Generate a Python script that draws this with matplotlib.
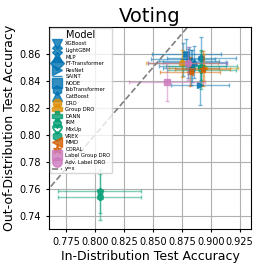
import matplotlib
matplotlib.use("Agg")
import matplotlib.pyplot as plt
import numpy as np

# per-model results: ID accuracy, OOD accuracy, and their error half-widths
models = ["XGBoost", "LightGBM", "MLP", "FT-Transformer", "ResNet", "SAINT", "NODE",
          "TabTransformer", "CatBoost", "DRO", "Group DRO", "DANN", "IRM", "MixUp",
          "VREX", "MMD", "CORAL", "Label Group DRO", "Adv. Label DRO"]
id_acc = [0.881, 0.879, 0.884, 0.880, 0.891, 0.876, 0.883, 0.892, 0.886, 0.875,
          0.894, 0.892, 0.804, 0.892, 0.804, 0.882, 0.893, 0.862, 0.880]
ood_acc = [0.855, 0.860, 0.851, 0.853, 0.837, 0.856, 0.850, 0.857, 0.854, 0.853,
           0.850, 0.851, 0.758, 0.848, 0.754, 0.847, 0.849, 0.839, 0.853]
id_err = [0.026, 0.030, 0.029, 0.034, 0.025, 0.028, 0.024, 0.030, 0.027, 0.031,
          0.030, 0.031, 0.036, 0.030, 0.036, 0.026, 0.024, 0.033, 0.034]
ood_err = [0.010, 0.011, 0.012, 0.011, 0.015, 0.012, 0.013, 0.016, 0.012, 0.010,
           0.010, 0.012, 0.016, 0.014, 0.017, 0.011, 0.013, 0.014, 0.012]

blue, orange, green, red, pink = "#0173b2", "#de8f05", "#029e73", "#d55e00", "#cc78bc"
colors = [blue] * 9 + [orange] * 2 + [green] * 4 + [red] * 2 + [pink] * 2
markers = ["v", "X", "^", "D", ">", "_", "s", "h", "^", "8", "P", "P", "p",
           "$\\heartsuit$", "h", "<", "*", "s", "o"]

fig = plt.figure(figsize=(2.66, 2.66), dpi=100)
ax = fig.add_axes([0.184, 0.139, 0.76, 0.759])

for i, m in enumerate(models):
    ax.errorbar(id_acc[i], ood_acc[i], xerr=id_err[i], yerr=ood_err[i], fmt="none",
                ecolor=colors[i], alpha=0.5, capsize=1.5, elinewidth=1, capthick=1)
    ax.plot(id_acc[i], ood_acc[i], linestyle="none", marker=markers[i], color=colors[i],
            markersize=4.5, alpha=0.8, label=m)

xlim = (0.760, 0.935)
ylim = (0.730, 0.880)
diag = np.array([0.70, 0.95])
ax.plot(diag, diag, "--", color="gray", linewidth=1.2, label="y=x")
ax.set_xlim(xlim)
ax.set_ylim(ylim)
ax.set_xticks([0.775, 0.800, 0.825, 0.850, 0.875, 0.900, 0.925])
ax.set_yticks([0.74, 0.76, 0.78, 0.80, 0.82, 0.84, 0.86])
ax.grid(True, color="#b0b0b0", linewidth=0.8)
ax.set_axisbelow(True)
ax.tick_params(labelsize=7, length=2.5)
ax.set_title("Voting", fontsize=14, pad=4)
ax.set_xlabel("In-Distribution Test Accuracy", fontsize=9, labelpad=2)
ax.set_ylabel("Out-of-Distribution Test Accuracy", fontsize=9, labelpad=2)

leg = ax.legend(title="Model", loc="upper left", fontsize=3.8, title_fontsize=7,
                labelspacing=0.3, borderaxespad=0.15, markerscale=1.5,
                handlelength=2.0, handletextpad=0.6, borderpad=0.35)

plt.savefig("out.png", dpi=100)
